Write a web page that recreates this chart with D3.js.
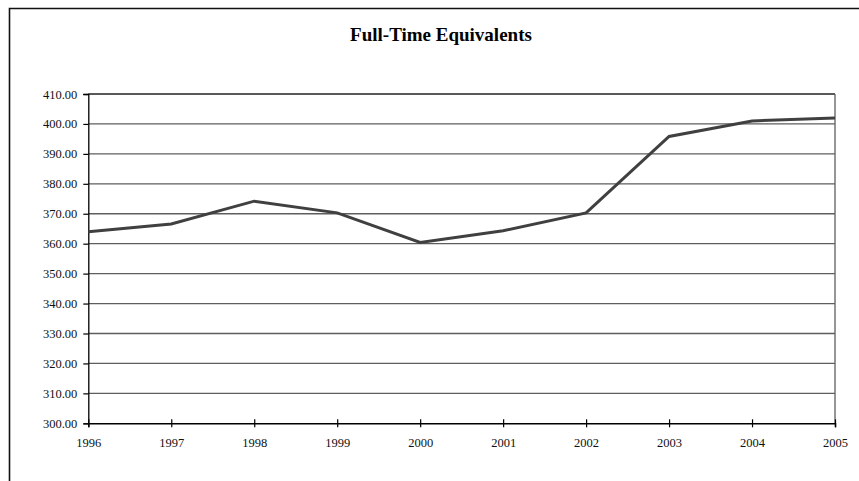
<!DOCTYPE html>
<html>
<head>
<meta charset="utf-8">
<script src="https://cdn.jsdelivr.net/npm/d3@7"></script>
<style>
  html, body { margin: 0; padding: 0; background: #fff; }
  svg { display: block; }
</style>
</head>
<body>
<svg id="chart" width="859" height="481"></svg>
<script>
const title = "Full-Time Equivalents";
const years = ["1996","1997","1998","1999","2000","2001","2002","2003","2004","2005"];
const fte = [364.0, 366.6, 374.2, 370.3, 360.4, 364.3, 370.3, 395.8, 401.0, 402.0];
const yTicks = [300,310,320,330,340,350,360,370,380,390,400,410];

const svg = d3.select("#chart");
const W = 859, H = 481;
const margin = { left: 88.3, top: 94, right: W - 835, bottom: H - 423.3 };
const iw = W - margin.left - margin.right;
const ih = H - margin.top - margin.bottom;
const font = "'Liberation Serif', 'Times New Roman', serif";

// outer chart border (cropped on right/bottom)
svg.append("path")
  .attr("d", `M9.5,${H + 5} L9.5,8.5 L${W + 5},8.5`)
  .attr("fill", "none").attr("stroke", "#111").attr("stroke-width", 1.6);

svg.append("text")
  .attr("x", 441).attr("y", 41)
  .attr("text-anchor", "middle")
  .attr("font-family", font).attr("font-weight", "bold").attr("font-size", "19px")
  .attr("fill", "#000")
  .text(title);

const g = svg.append("g").attr("transform", `translate(${margin.left},${margin.top})`);

const x = d3.scalePoint().domain(years).range([0, iw]);
const y = d3.scaleLinear().domain([300, 410]).range([ih, 0]);

// gridlines
g.append("g").selectAll("line").data(yTicks.filter(d => d > 300)).join("line")
  .attr("x1", 0).attr("x2", iw)
  .attr("y1", d => y(d)).attr("y2", d => y(d))
  .attr("stroke", d => d === 410 ? "#222" : "#5e5e5e")
  .attr("stroke-width", 1.3);

// right border
g.append("line").attr("x1", iw).attr("x2", iw).attr("y1", 0).attr("y2", ih)
  .attr("stroke", "#5e5e5e").attr("stroke-width", 1.3);

// y axis
const yAxis = g.append("g")
  .call(d3.axisLeft(y).tickValues(yTicks).tickFormat(d3.format(".2f")).tickSize(5).tickPadding(6));
yAxis.select(".domain").attr("stroke", "#000").attr("stroke-width", 1.3);
yAxis.selectAll(".tick line").attr("stroke", "#000").attr("stroke-width", 1.2);
yAxis.selectAll("text").attr("font-family", font).attr("font-size", "12.5px").attr("fill", "#111");

// x axis
const xAxis = g.append("g").attr("transform", `translate(0,${ih})`)
  .call(d3.axisBottom(x).tickSize(4).tickPadding(6));
xAxis.select(".domain").attr("stroke", "#000").attr("stroke-width", 1.5);
xAxis.selectAll(".tick line").attr("y1", -4).attr("y2", 4).attr("stroke", "#000").attr("stroke-width", 1.2);
xAxis.selectAll("text").attr("font-family", font).attr("font-size", "12.5px").attr("fill", "#111")
  .attr("y", 15);

// line
const line = d3.line().x((d, i) => x(years[i])).y(d => y(d));
g.append("path").datum(fte)
  .attr("d", line)
  .attr("fill", "none").attr("stroke", "#404040").attr("stroke-width", 3)
  .attr("stroke-linejoin", "miter");
</script>
</body>
</html>
